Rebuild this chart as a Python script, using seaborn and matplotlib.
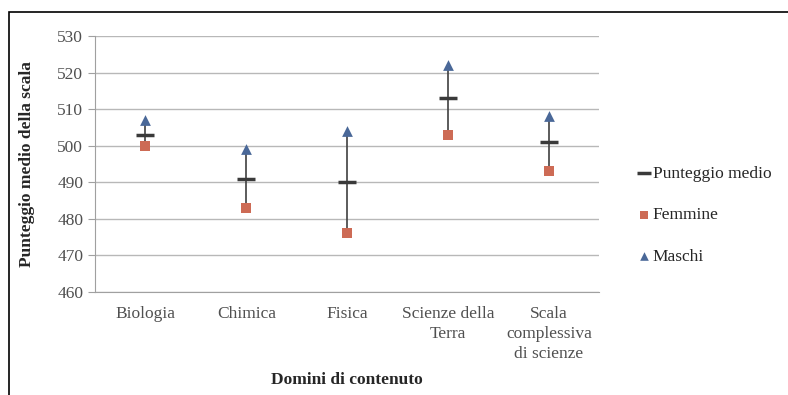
import pandas as pd
import seaborn as sns
import matplotlib.pyplot as plt

# Data
domini = ['Biologia', 'Chimica', 'Fisica', 'Scienze della\nTerra',
          'Scala\ncomplessiva\ndi scienze']
punteggio_medio = [503, 491, 490, 513, 501]
femmine = [500, 483, 476, 503, 493]
maschi = [507, 499, 504, 522, 508]

df = pd.DataFrame({'Dominio': domini, 'Punteggio medio': punteggio_medio,
                   'Femmine': femmine, 'Maschi': maschi})
long_df = df.melt(id_vars='Dominio', var_name='Serie', value_name='Punteggio')

sns.set_style('white')
plt.rcParams['font.family'] = ['Liberation Serif', 'DejaVu Serif']

fig = plt.figure(figsize=(7.88, 3.95), dpi=100)
ax = fig.add_axes([0.1206, 0.261, 0.64, 0.648])

# vertical range lines (femmine -> maschi)
ax.vlines(range(len(domini)), df['Femmine'], df['Maschi'],
          color='#404040', linewidth=1.2, zorder=2)

palette = {'Punteggio medio': '#3a3a3a', 'Femmine': '#CD6B55', 'Maschi': '#4A6898'}
markers = {'Punteggio medio': '_', 'Femmine': 's', 'Maschi': '^'}
sizes = {'Punteggio medio': 160, 'Femmine': 50, 'Maschi': 60}
for serie in ['Punteggio medio', 'Femmine', 'Maschi']:
    sub = long_df[long_df['Serie'] == serie]
    sns.scatterplot(data=sub, x='Dominio', y='Punteggio', ax=ax,
                    color=palette[serie], marker=markers[serie], s=sizes[serie],
                    linewidth=2.5 if serie == 'Punteggio medio' else 0,
                    edgecolor=palette[serie], label=serie, zorder=3)

ax.set_xlim(-0.5, len(domini) - 0.5)
ax.set_ylim(460, 530)
ax.set_yticks(range(460, 531, 10))
ax.yaxis.grid(True, color='#b8b8b8', linewidth=1)
ax.set_axisbelow(True)
for side in ['top', 'right']:
    ax.spines[side].set_visible(False)
for side in ['left', 'bottom']:
    ax.spines[side].set_color('#a0a0a0')
ax.tick_params(axis='both', colors='#a0a0a0', labelcolor='#505050', labelsize=12.5)
ax.tick_params(axis='y', length=5, left=True)
ax.tick_params(axis='x', length=0, pad=10)
for lbl in ax.get_xticklabels():
    lbl.set_verticalalignment('top')
    lbl.set_linespacing(1.35)

ax.set_xlabel('Domini di contenuto', fontsize=12.5, fontweight='bold', labelpad=7)
ax.set_ylabel('Punteggio medio della scala', fontsize=12.5, fontweight='bold', labelpad=16)

leg = ax.legend(loc='center left', bbox_to_anchor=(1.04, 0.30), frameon=False,
                fontsize=12.5, labelspacing=1.45, handletextpad=0.0, handlelength=1.0,
                markerscale=0.8)

# outer frame like the original figure
fig.patches.append(plt.Rectangle((0.011, -0.01), 1.0, 0.98, transform=fig.transFigure,
                                 fill=False, edgecolor='black', linewidth=1.2))

plt.savefig('out.png', dpi=100)
